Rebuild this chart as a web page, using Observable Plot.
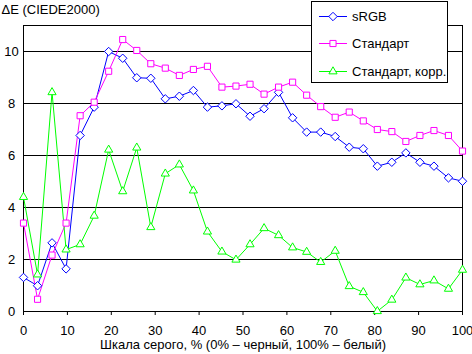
<!DOCTYPE html>
<html>
<head>
<meta charset="utf-8">
<script src="https://cdn.jsdelivr.net/npm/d3@7"></script>
<script src="https://cdn.jsdelivr.net/npm/@observablehq/plot@0.6"></script>
<style>
  html, body { margin: 0; padding: 0; background: #fff; }
  #wrap { position: relative; width: 472px; height: 354px; font-family: "Liberation Sans", Arial, sans-serif; }
  #legend { position: absolute; left: 311px; top: 1px; width: 137px; height: 82px; border: 1px solid #000; background: #fff; box-sizing: border-box; }
  #legend .row { position: absolute; left: 0; height: 16px; display: flex; align-items: center; font-size: 13px; color: #000; white-space: nowrap; }
  #legend svg { display: block; margin-left: 7px; margin-right: 4px; }
</style>
</head>
<body>
<div id="wrap"></div>
<script>
const grey = [0, 3.2, 6.5, 9.7, 12.9, 16.1, 19.4, 22.6, 25.8, 29, 32.3, 35.5, 38.7, 41.9, 45.2, 48.4,
  51.6, 54.8, 58.1, 61.3, 64.5, 67.7, 71, 74.2, 77.4, 80.6, 83.9, 87.1, 90.3, 93.5, 96.8, 100];
const srgb = [1.31, 0.99, 2.64, 1.64, 6.77, 7.86, 10.0, 9.74, 8.99, 8.97, 8.18, 8.28, 8.5, 7.86, 7.91, 7.99,
  7.51, 7.8, 8.43, 7.45, 6.9, 6.9, 6.73, 6.32, 6.26, 5.59, 5.74, 6.1, 5.74, 5.59, 5.14, 5.01];
const standard = [3.4, 0.47, 2.17, 3.4, 7.53, 8.05, 9.24, 10.46, 10.04, 9.53, 9.36, 9.08, 9.31, 9.43, 8.63, 8.67,
  8.74, 8.36, 8.63, 8.82, 8.32, 7.88, 7.47, 7.67, 7.33, 7.0, 6.92, 6.54, 6.77, 6.96, 6.77, 6.17];
const corrected = [4.4, 1.42, 8.43, 2.38, 2.58, 3.68, 6.22, 4.62, 6.3, 3.24, 5.3, 5.65, 4.65, 3.07, 2.3, 1.99,
  2.58, 3.2, 2.93, 2.46, 2.29, 1.9, 2.33, 0.97, 0.74, 0.01, 0.45, 1.3, 1.04, 1.19, 0.87, 1.6];
const seriesNames = ["sRGB", "Стандарт", "Стандарт, корр."];
const seriesColors = ["#0000ff", "#ff00ff", "#00ff00"];
const seriesSymbols = ["diamond2", "square2", "triangle2"];
const xTicks = [0, 10, 20, 30, 40, 50, 60, 70, 80, 90, 100];
const yTicks = [0, 2, 4, 6, 8, 10];
const title = "ΔE (CIEDE2000)";
const xLabel = "Шкала серого, % (0% – черный, 100% – белый)";

const seriesValues = [srgb, standard, corrected];
const rows = seriesValues.map((vals, s) => grey.map((g, i) => ({x: g, y: vals[i], s})));

const marks = [
  Plot.ruleY(yTicks.filter(d => d > 0), {stroke: "#000", strokeWidth: 1, shapeRendering: "crispEdges"}),
  Plot.frame({stroke: "#000", strokeWidth: 1, shapeRendering: "crispEdges"}),
  Plot.axisX(xTicks, {tickSize: 4, tickPadding: 10, label: null, fontSize: 13, stroke: "#000"}),
  Plot.axisY(yTicks, {tickSize: 0, tickPadding: 12, textAnchor: "middle", label: null, fontSize: 13}),
  Plot.text([title], {frameAnchor: "top-left", text: d => d, dx: -22, dy: -21, lineAnchor: "top", textAnchor: "start", fontSize: 13, fill: "#000"}),
  Plot.text([xLabel], {frameAnchor: "bottom", text: d => d, dy: 33, lineAnchor: "middle", textAnchor: "middle", fontSize: 13, fill: "#000"})
];
rows.forEach((data, s) => {
  marks.push(Plot.line(data, {x: "x", y: "y", stroke: seriesColors[s], strokeWidth: 1}));
});
rows.forEach((data, s) => {
  marks.push(Plot.dot(data, {x: "x", y: "y", stroke: seriesColors[s], fill: "#fff", strokeWidth: 1, symbol: seriesSymbols[s], r: s === 0 ? 3.8 : 3.9}));
});

const chart = Plot.plot({
  width: 472,
  height: 354,
  marginLeft: 23,
  marginRight: 10,
  marginTop: 25,
  marginBottom: 43,
  style: {fontFamily: "'Liberation Sans', Arial, sans-serif", fontSize: "13px", color: "#000", background: "#fff"},
  x: {domain: [0, 100]},
  y: {domain: [0, 11]},
  marks
});
const wrap = document.getElementById("wrap");
wrap.appendChild(chart);

// legend
const legend = document.createElement("div");
legend.id = "legend";
const rowY = [6, 33, 61];
seriesNames.forEach((name, s) => {
  const row = document.createElement("div");
  row.className = "row";
  row.style.top = rowY[s] + "px";
  const svg = d3.create("svg").attr("width", 29).attr("height", 16);
  svg.append("line").attr("x1", 0).attr("x2", 28).attr("y1", 8.5).attr("y2", 8.5)
    .attr("stroke", seriesColors[s]).attr("stroke-width", 1).attr("shape-rendering", "crispEdges");
  const symMap = {diamond2: d3.symbolDiamond2, square2: d3.symbolSquare2, triangle2: d3.symbolTriangle2};
  const r = s === 0 ? 3.8 : 3.9;
  svg.append("path").attr("transform", "translate(14,8.5)")
    .attr("d", d3.symbol(symMap[seriesSymbols[s]], Math.PI * r * r)())
    .attr("fill", "#fff").attr("stroke", seriesColors[s]).attr("stroke-width", 1);
  row.appendChild(svg.node());
  const span = document.createElement("span");
  span.textContent = name;
  row.appendChild(span);
  legend.appendChild(row);
});
wrap.appendChild(legend);
</script>
</body>
</html>
